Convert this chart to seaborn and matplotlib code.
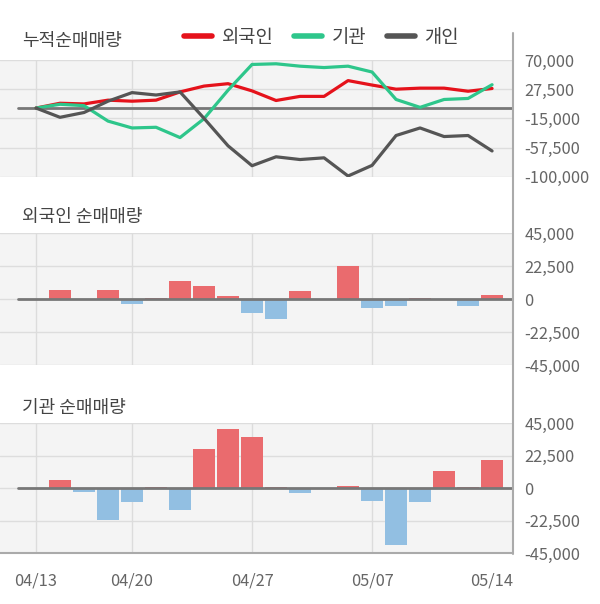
import matplotlib
matplotlib.use("Agg")
import matplotlib.pyplot as plt
from matplotlib.lines import Line2D
import seaborn as sns
import numpy as np
import pandas as pd

dates = ["04/13", "04/14", "04/16", "04/17", "04/20", "04/21", "04/22", "04/23", "04/24",
         "04/27", "04/28", "04/29", "05/04", "05/06", "05/07", "05/08", "05/11", "05/12",
         "05/13", "05/14"]
tick_dates = ["04/13", "04/20", "04/27", "05/07", "05/14"]
grid_dates = ["04/13", "04/20", "04/27", "05/07"]

foreign_cum = [0, 7000, 6000, 11500, 10000, 11500, 23500, 32000, 35500, 25000, 11000,
               17000, 17000, 40000, 33500, 27500, 29000, 29000, 24500, 28500]
inst_cum = [0, 5500, 3500, -19000, -29000, -28000, -43000, -15500, 26000, 63500, 64500,
            61000, 59000, 61000, 52500, 12500, 1000, 12500, 14000, 34000]
indiv_cum = [0, -13500, -6500, 10000, 22500, 19000, 23500, -15000, -55000, -84000, -71000,
             -75000, -72500, -99000, -83500, -40000, -29000, -41500, -40000, -62500]

foreign_daily = [0, 6400, 0, 6400, -3000, 900, 12200, 9200, 2300, -9200, -13300, 5750, 0,
                 22500, -5750, -5000, 900, 0, -4400, 3000]
inst_daily = [0, 5700, -2300, -21800, -9800, 900, -15300, 27000, 40800, 35300, 900, -3000, 0,
              1600, -8500, -39400, -9800, 12100, 900, 19500]

top_ticks = [70000, 27500, -15000, -57500, -100000]
bar_ticks = [45000, 22500, 0, -22500, -45000]

titles = ["누적순매매량", "외국인 순매매량", "기관 순매매량"]
legend_labels = ["외국인", "기관", "개인"]
line_colors = ["#e5121b", "#2ec68b", "#555555"]
pos_color = "#ea6b6e"
neg_color = "#92bfe2"

sns.set_theme(style="white")
plt.rcParams["font.family"] = ["Noto Sans CJK KR", "DejaVu Sans"]

W, H = 600, 604
fig = plt.figure(figsize=(W / 100, H / 100), dpi=100)


def add_ax(top, bottom, left=0, right=512):
    return fig.add_axes([left / W, 1 - bottom / H, (right - left) / W, (bottom - top) / H])


ax1 = add_ax(60, 176.7)
ax2 = add_ax(233.3, 365)
ax3 = add_ax(423.3, 553.3)

n = len(dates)
idx = np.arange(n)
xlim = (-1.5, 19.83)
grid_idx = [dates.index(d) for d in grid_dates]
tick_idx = [dates.index(d) for d in tick_dates]
zero_xmin = 18 / 512
TICK_FS = 11.8


def style_ax(ax, ticks, ylim):
    ax.set_facecolor("#f4f4f4")
    ax.set_xlim(*xlim)
    ax.set_ylim(*ylim)
    ax.set_yticks(ticks)
    ax.yaxis.tick_right()
    ax.set_yticklabels([f"{t:,}" for t in ticks], fontsize=TICK_FS, color="#666666")
    ax.tick_params(axis="y", length=0, pad=9)
    for t in ticks:
        ax.axhline(t, color="#dddddd", lw=1, zorder=0)
    for g in grid_idx:
        ax.axvline(g, color="#dcdcdc", lw=1, zorder=0)
    for s in ax.spines.values():
        s.set_visible(False)
    ax.set_xlabel("")
    ax.set_ylabel("")


# Top: cumulative lines
cum_df = pd.DataFrame({"idx": np.tile(idx, 3),
                       "value": foreign_cum + inst_cum + indiv_cum,
                       "who": np.repeat(legend_labels, n)})
sns.lineplot(data=cum_df, x="idx", y="value", hue="who", hue_order=legend_labels,
             palette=dict(zip(legend_labels, line_colors)), linewidth=2.3, ax=ax1,
             legend=False, zorder=3)
style_ax(ax1, top_ticks, (-100000, 70000))
ax1.axhline(0, xmin=zero_xmin, color="#777777", lw=2, zorder=2)
ax1.set_xticks([])

# Bars


def bar_panel(ax, values):
    df = pd.DataFrame({"date": dates, "value": values,
                       "sign": ["pos" if v >= 0 else "neg" for v in values]})
    sns.barplot(data=df, x="date", y="value", hue="sign", order=dates,
                palette={"pos": pos_color, "neg": neg_color}, dodge=False,
                width=0.95, ax=ax, legend=False, zorder=3, saturation=1,
                linewidth=0, edgecolor="none")
    bw = 0.95
    for p in ax.patches:
        c = p.get_x() + p.get_width() / 2
        p.set_width(bw)
        p.set_x(c - bw / 2)
        p.set_linewidth(0)
    style_ax(ax, bar_ticks, (-45000, 45000))
    ax.axhline(0, xmin=zero_xmin, color="#777777", lw=2, zorder=4)


bar_panel(ax2, foreign_daily)
ax2.set_xticks([])
bar_panel(ax3, inst_daily)
ax3.set_xticks(tick_idx)
ax3.set_xticklabels(tick_dates, fontsize=TICK_FS, color="#666666")
ax3.tick_params(axis="x", length=0, pad=14)
ax3.spines["bottom"].set_visible(True)
ax3.spines["bottom"].set_color("#aaaaaa")
ax3.spines["bottom"].set_linewidth(1.5)

# Titles
for title, y in [(titles[0], 41), (titles[1], 217), (titles[2], 408)]:
    fig.text(22 / W, 1 - y / H, title, fontsize=13, color="#444444", va="center", ha="left")

# Legend
handles = [Line2D([0], [0], color=c, lw=4) for c in line_colors]
fig.legend(handles, legend_labels, loc="center left", bbox_to_anchor=(184 / W, 1 - 37 / H),
           ncol=3, frameon=False, fontsize=13.5, handlelength=1.5, handletextpad=0.5,
           columnspacing=1.1, labelcolor="#444444", borderaxespad=0, borderpad=0)

# Right vertical divider
fig.add_artist(Line2D([512.5 / W, 512.5 / W], [1 - 33 / H, 1 - 553.5 / H],
                      transform=fig.transFigure, color="#aaaaaa", lw=1.5))

fig.savefig("out.png", dpi=100, facecolor="white")
